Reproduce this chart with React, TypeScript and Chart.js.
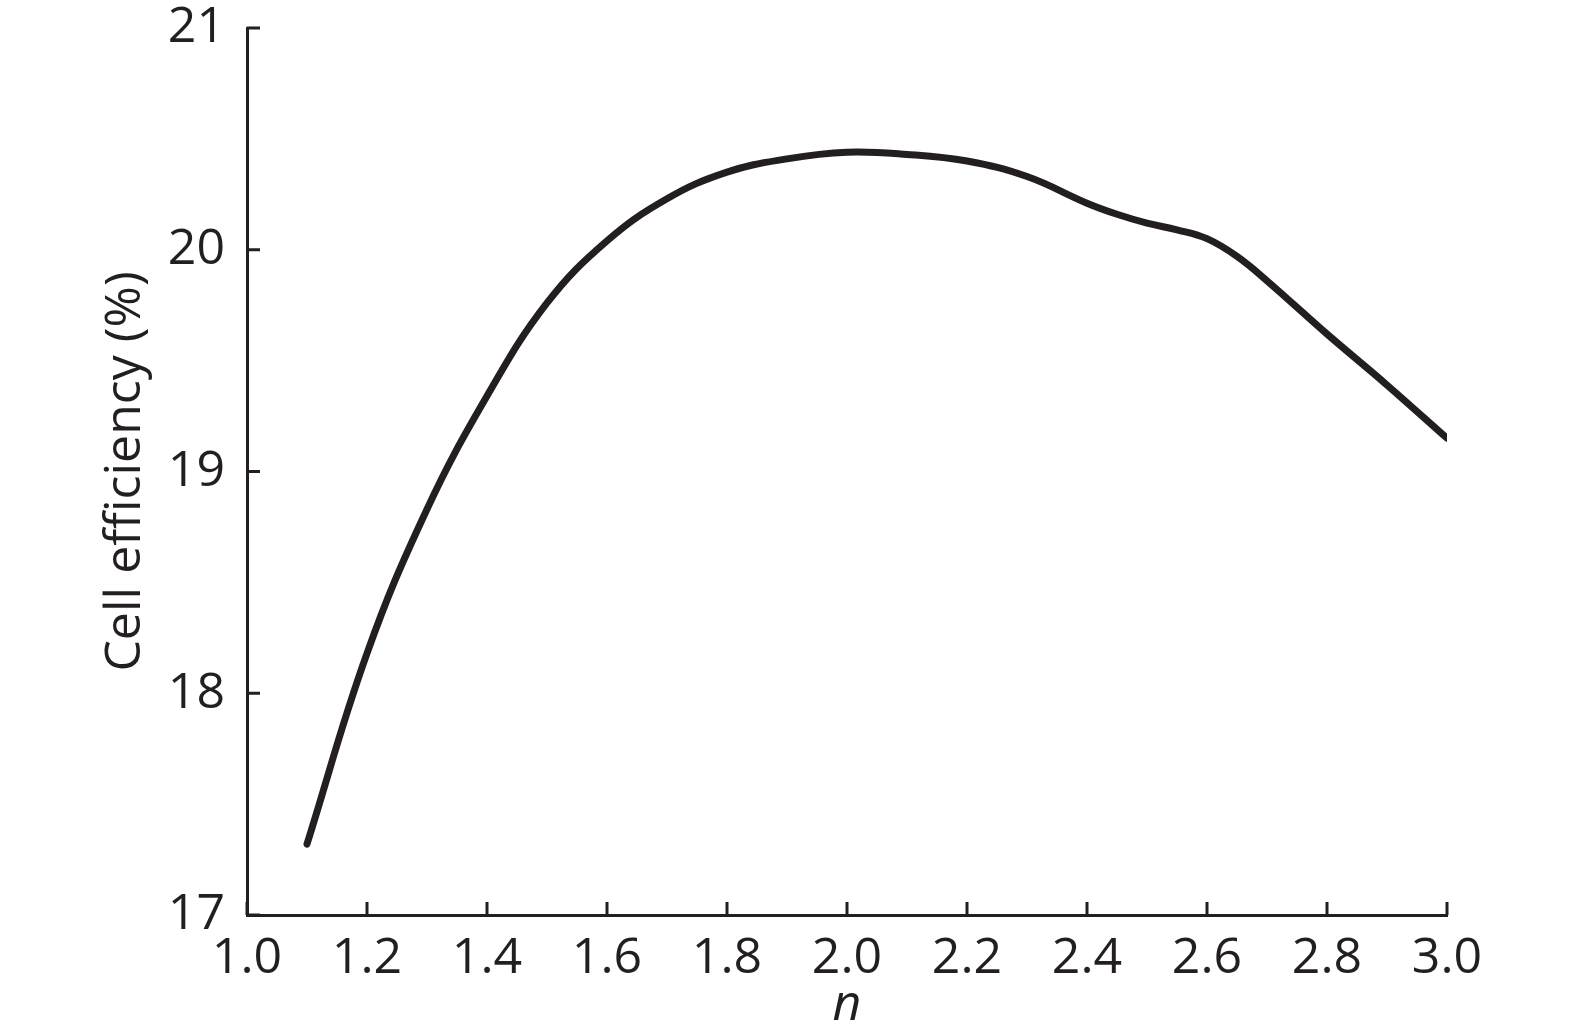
import React, { useEffect, useRef } from "react";
import { Chart, registerables } from "chart.js";

Chart.register(...registerables);

// Data
const nValues = [1.1, 1.2, 1.3, 1.4, 1.5, 1.6, 1.7, 1.8, 1.9, 2.0, 2.1, 2.2, 2.3, 2.4, 2.45, 2.5, 2.55, 2.6, 2.65, 2.7, 2.8, 2.9, 3.0];
const efficiency = [17.32, 18.18, 18.83, 19.34, 19.76, 20.04, 20.23, 20.35, 20.41, 20.44, 20.43, 20.40, 20.33, 20.21, 20.16, 20.12, 20.09, 20.05, 19.97, 19.86, 19.62, 19.39, 19.15];

const xTickValues = [1.0, 1.2, 1.4, 1.6, 1.8, 2.0, 2.2, 2.4, 2.6, 2.8, 3.0];
const yTickValues = [17, 18, 19, 20, 21];

const INK = "#231f20";
const FONT = "'Open Sans', 'Noto Sans', sans-serif";

const inwardTicks = {
  id: "inwardTicks",
  afterDraw(chart: any) {
    const { ctx, chartArea } = chart;
    const xs = chart.scales.x;
    const ys = chart.scales.y;
    ctx.save();
    ctx.strokeStyle = INK;
    ctx.lineWidth = 3;
    ctx.lineCap = "butt";
    ctx.beginPath();
    for (const v of xTickValues) {
      const px = xs.getPixelForValue(v);
      ctx.moveTo(px, chartArea.bottom);
      ctx.lineTo(px, chartArea.bottom - 13);
    }
    for (const v of yTickValues) {
      const py = ys.getPixelForValue(v);
      ctx.moveTo(chartArea.left, py);
      ctx.lineTo(chartArea.left + 13, py);
    }
    ctx.stroke();
    ctx.restore();
  },
};

export default function App() {
  const canvasRef = useRef<HTMLCanvasElement | null>(null);

  useEffect(() => {
    let chart: Chart | null = null;
    let cancelled = false;
    const build = () => {
      if (cancelled || !canvasRef.current) return;
      chart = new Chart(canvasRef.current, {
        type: "line",
        data: {
          datasets: [
            {
              data: nValues.map((n, i) => ({ x: n, y: efficiency[i] })),
              borderColor: INK,
              borderWidth: 7,
              borderCapStyle: "round",
              borderJoinStyle: "round",
              pointRadius: 0,
              fill: false,
              tension: 0.4,
            },
          ],
        },
        options: {
          responsive: false,
          animation: false,
          layout: { padding: { left: 0, top: 28, right: 128, bottom: 0 } },
          plugins: { legend: { display: false }, tooltip: { enabled: false } },
          scales: {
            x: {
              type: "linear",
              min: 1.0,
              max: 3.0,
              afterBuildTicks: (scale: any) => {
                scale.ticks = xTickValues.map((v) => ({ value: v }));
              },
              afterFit: (scale: any) => {
                scale.height = 121;
                scale.paddingLeft = 0;
                scale.paddingRight = 0;
              },
              grid: { display: false, drawTicks: false },
              border: { display: true, color: INK, width: 3 },
              ticks: {
                color: INK,
                font: { family: FONT, size: 50 },
                padding: 14,
                maxRotation: 0,
                autoSkip: false,
                callback: (v: any) => Number(v).toFixed(1),
              },
              title: {
                display: true,
                text: "n",
                color: INK,
                font: { family: FONT, size: 50, style: "italic" },
                padding: { top: 0, bottom: 0 },
              },
            },
            y: {
              type: "linear",
              min: 17,
              max: 21,
              afterBuildTicks: (scale: any) => {
                scale.ticks = yTickValues.map((v) => ({ value: v }));
              },
              afterFit: (scale: any) => {
                scale.width = 247;
                scale.paddingTop = 0;
                scale.paddingBottom = 0;
              },
              grid: { display: false, drawTicks: false },
              border: { display: true, color: INK, width: 3 },
              ticks: {
                color: INK,
                font: { family: FONT, size: 50 },
                padding: 22,
                autoSkip: false,
                callback: (v: any) => String(v),
              },
              title: {
                display: true,
                text: "Cell efficiency (%)",
                color: INK,
                font: { family: FONT, size: 50 },
                padding: { top: 96, bottom: 0 },
              },
            },
          },
        },
        plugins: [inwardTicks],
      } as any);
    };
    const fontsReady = (document as any).fonts
      ? Promise.all([
          (document as any).fonts.load("50px 'Open Sans'"),
          (document as any).fonts.load("italic 50px 'Open Sans'"),
        ]).catch(() => null)
      : Promise.resolve(null);
    fontsReady.then(build);
    return () => {
      cancelled = true;
      if (chart) chart.destroy();
    };
  }, []);

  return (
    <div style={{ position: "absolute", left: 0, top: 0, width: 1575, height: 1036, background: "#fff" }}>
      <canvas ref={canvasRef} width={1575} height={1036} style={{ display: "block", width: 1575, height: 1036 }} />
    </div>
  );
}
